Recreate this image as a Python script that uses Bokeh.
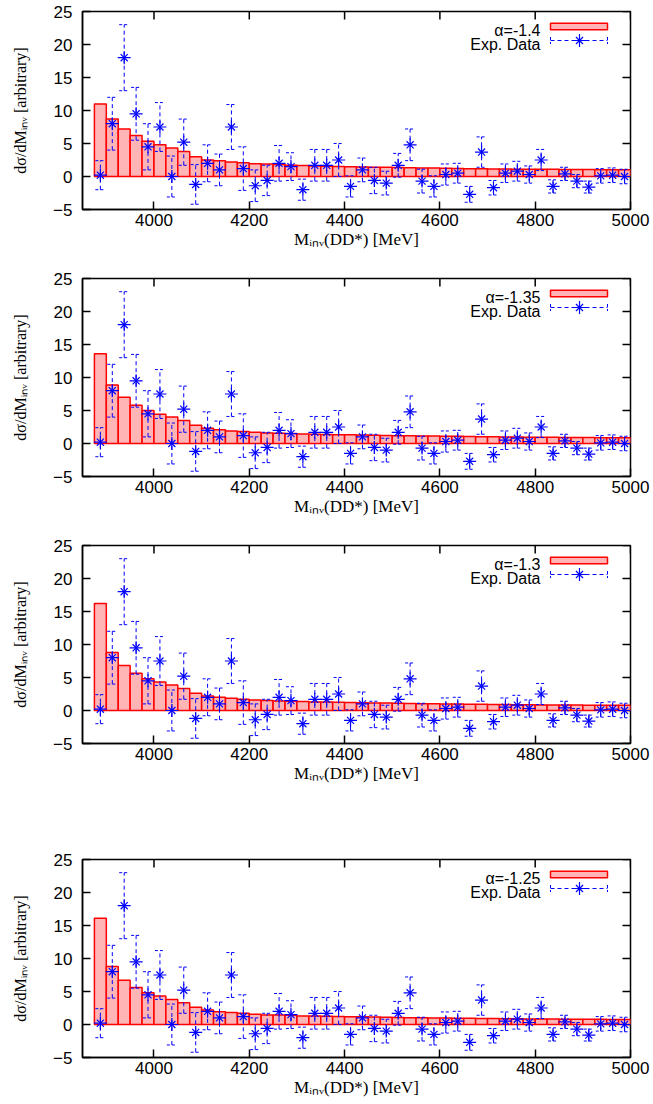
import numpy as np
from bokeh.plotting import figure
from bokeh.layouts import column
from bokeh.models import Label, FixedTicker, Range1d
from bokeh.embed import file_html
from bokeh.resources import INLINE

# ---- data -------------------------------------------------------------
bin_width = 25
bin_lo = list(range(3875, 5000, bin_width))          # 45 bins, 3875..5000 MeV

exp_y = [0.2, 8.0, 18.0, 9.5, 4.5, 7.5, 0.0, 5.2, -1.2, 2.0,
         1.0, 7.5, 1.2, -1.4, -0.6, 2.0, 1.5, -2.0, 1.7, 1.7,
         2.5, -1.5, 1.0, -0.6, -1.0, 1.7, 4.8, -0.7, -1.5, 0.3,
         0.5, -2.7, 3.7, -1.7, 0.5, 0.8, 0.3, 2.5, -1.5, 0.4,
         -0.7, -1.6, 0.1, 0.2, 0.0]
exp_err = [2.2, 4.0, 5.0, 4.0, 3.5, 3.7, 3.1, 3.5, 3.0, 2.8,
           2.4, 3.4, 3.3, 2.4, 2.3, 2.7, 2.1, 1.6, 2.4, 2.4,
           2.5, 1.6, 1.8, 2.0, 1.8, 1.8, 2.4, 1.8, 1.6, 1.6,
           1.5, 1.2, 2.3, 1.1, 1.4, 1.5, 1.3, 1.6, 1.0, 1.0,
           1.0, 0.9, 1.1, 1.1, 1.1]

alpha_labels = ["\u03b1=-1.4", "\u03b1=-1.35", "\u03b1=-1.3", "\u03b1=-1.25"]

theory_a140 = [11.0, 8.7, 7.2, 6.2, 5.35, 4.8, 4.3, 3.8, 3.0, 2.5,
               2.4, 2.2, 2.1, 1.95, 1.9, 1.8, 1.72, 1.66, 1.6,
               1.56, 1.52, 1.48, 1.45, 1.42, 1.39, 1.36, 1.33, 1.3, 1.27,
               1.24, 1.2, 1.18, 1.16, 1.14, 1.12, 1.11, 1.1, 1.09, 1.08,
               1.07, 1.06, 1.05, 1.04, 1.03, 1.02]
theory_a135 = [13.6, 8.85, 7.0, 5.8, 5.0, 4.45, 4.0, 3.5, 2.75, 2.3,
               2.1, 1.9, 1.8, 1.7, 1.6, 1.55, 1.5, 1.45, 1.4,
               1.37, 1.34, 1.31, 1.28, 1.25, 1.22, 1.19, 1.16, 1.14, 1.12,
               1.1, 1.08, 1.06, 1.04, 1.02, 1.0, 0.98, 0.96, 0.94, 0.93,
               0.92, 0.91, 0.9, 0.89, 0.88, 0.87]
theory_a130 = [16.2, 8.8, 6.8, 5.65, 4.8, 4.3, 3.85, 3.35, 2.6, 2.2,
               2.0, 1.85, 1.7, 1.6, 1.5, 1.45, 1.4, 1.35, 1.3,
               1.27, 1.24, 1.21, 1.18, 1.15, 1.12, 1.09, 1.06, 1.04, 1.02,
               1.0, 0.98, 0.96, 0.94, 0.92, 0.9, 0.88, 0.86, 0.85, 0.84,
               0.83, 0.82, 0.81, 0.8, 0.79, 0.78]
theory_a125 = [16.1, 8.8, 6.7, 5.6, 4.8, 4.3, 3.8, 3.3, 2.6, 2.2,
               1.95, 1.8, 1.7, 1.55, 1.45, 1.45, 1.4, 1.3, 1.3,
               1.25, 1.22, 1.19, 1.16, 1.13, 1.1, 1.07, 1.04, 1.02, 1.0,
               0.98, 0.96, 0.94, 0.92, 0.9, 0.88, 0.86, 0.84, 0.83, 0.82,
               0.81, 0.8, 0.79, 0.78, 0.77, 0.76]

x_ticks = [4000, 4200, 4400, 4600, 4800, 5000]
y_ticks = [-5, 0, 5, 10, 15, 20, 25]

x_title = "M\u1d62\u2099\u1d65(DD*) [MeV]"
y_title = "d\u03c3/dM\u1d62\u2099\u1d65 [arbitrary]"

# ---- geometry -----------------------------------------------------------
X0, X1 = 3850, 5000
Y0, Y1 = -5, 25
FW, FH = 548, 198
LEFT, RIGHT = 82, 23
WIDTH = 653
TICK = 8  # px

BAR_FILL = "#ffb5b5"
BAR_LINE = "#ff0000"
BLUE = "#0000ff"
SANS = "Liberation Sans"
SERIF = "Liberation Serif"

DX = (X1 - X0) / FW   # data units per pixel
DY = (Y1 - Y0) / FH


def px_x(dx):
    """Frame-relative pixel offset (from left) to data x."""
    return X0 + dx * DX


def px_y(dy):
    """Frame-relative pixel offset (from top) to data y."""
    return Y1 - dy * DY


def style_axis(ax, ticks):
    ax.ticker = FixedTicker(ticks=ticks)
    ax.axis_line_width = 1.5
    ax.axis_line_color = "black"
    ax.major_tick_in = TICK
    ax.major_tick_out = 0
    ax.major_tick_line_width = 1.5
    ax.minor_tick_line_color = None
    ax.major_label_text_font = SANS
    ax.major_label_text_font_size = "17px"
    ax.major_label_text_color = "black"
    ax.axis_label_text_font = SERIF
    ax.axis_label_text_font_style = "normal"
    ax.axis_label_text_color = "black"


def panel(alpha_text, theory, top, bottom):
    p = figure(width=WIDTH, height=top + FH + bottom,
               x_range=Range1d(X0, X1), y_range=Range1d(Y0, Y1),
               output_backend="svg", toolbar_location=None,
               min_border_left=LEFT, min_border_right=RIGHT,
               min_border_top=top, min_border_bottom=bottom)
    p.grid.visible = False
    p.outline_line_color = "black"
    p.outline_line_width = 1.5

    xa = p.xaxis[0]
    style_axis(xa, x_ticks)
    xa.major_label_standoff = 4
    xa.axis_label = x_title
    xa.axis_label_text_font_size = "17px"
    xa.axis_label_standoff = 1

    ya = p.yaxis[0]
    style_axis(ya, y_ticks)
    ya.major_label_standoff = 10
    ya.axis_label = y_title
    ya.axis_label_text_font_size = "16px"
    ya.axis_label_standoff = 21

    # mirrored ticks on the top and right edges of the box
    p.segment(x0=x_ticks, y0=[Y1] * len(x_ticks), x1=x_ticks,
              y1=[Y1 - TICK * DY] * len(x_ticks),
              line_color="black", line_width=1.5)
    p.segment(x0=[X1] * len(y_ticks), y0=y_ticks,
              x1=[X1 - TICK * DX] * len(y_ticks), y1=y_ticks,
              line_color="black", line_width=1.5)

    lo = np.array(bin_lo, dtype=float)
    hi = lo + bin_width
    xc = lo + bin_width / 2
    ey = np.array(exp_y)
    ee = np.array(exp_err)

    # model histogram
    p.quad(left=lo, right=hi, bottom=0, top=theory,
           fill_color=BAR_FILL, line_color=BAR_LINE, line_width=1.5)

    # experimental points with dashed error bars
    cap = 5 * DX
    p.segment(x0=xc, y0=ey - ee, x1=xc, y1=ey + ee,
              line_color=BLUE, line_dash="4 3", line_width=1)
    p.segment(x0=xc - cap, y0=ey + ee, x1=xc + cap, y1=ey + ee,
              line_color=BLUE, line_dash="3 2", line_width=1)
    p.segment(x0=xc - cap, y0=ey - ee, x1=xc + cap, y1=ey - ee,
              line_color=BLUE, line_dash="3 2", line_width=1)
    p.scatter(xc, ey, marker="cross", size=13, line_color=BLUE, line_width=1.2)
    p.scatter(xc, ey, marker="x", size=10, line_color=BLUE, line_width=1.2)

    # key
    p.quad(left=px_x(468), right=px_x(525), top=px_y(11.7), bottom=px_y(18.3),
           fill_color=BAR_FILL, line_color=BAR_LINE, line_width=1.5)
    p.segment(x0=px_x(468), y0=px_y(29), x1=px_x(525), y1=px_y(29),
              line_color=BLUE, line_dash="4 3", line_width=1)
    for xx in (468, 525):
        p.segment(x0=px_x(xx), y0=px_y(25.5), x1=px_x(xx), y1=px_y(32.5),
                  line_color=BLUE, line_dash="3 2", line_width=1)
    p.scatter([px_x(497)], [px_y(29)], marker="cross", size=13,
              line_color=BLUE, line_width=1.2)
    p.scatter([px_x(497)], [px_y(29)], marker="x", size=10,
              line_color=BLUE, line_width=1.2)
    p.add_layout(Label(x=px_x(458), y=px_y(18.5), text=alpha_text,
                       text_font=SANS, text_font_size="16px",
                       text_align="right", text_baseline="alphabetic",
                       text_color="black"))
    p.add_layout(Label(x=px_x(458), y=px_y(33), text="Exp. Data",
                       text_font=SANS, text_font_size="16px",
                       text_align="right", text_baseline="alphabetic",
                       text_color="black"))
    return p


p1 = panel(alpha_labels[0], theory_a140, 11, 58)
p2 = panel(alpha_labels[1], theory_a135, 11, 58)
p3 = panel(alpha_labels[2], theory_a130, 11, 58)
p4 = panel(alpha_labels[3], theory_a125, 58, 47)

layout = column(p1, p2, p3, p4, spacing=0)
open("out.html", "w").write(file_html(layout, INLINE))
